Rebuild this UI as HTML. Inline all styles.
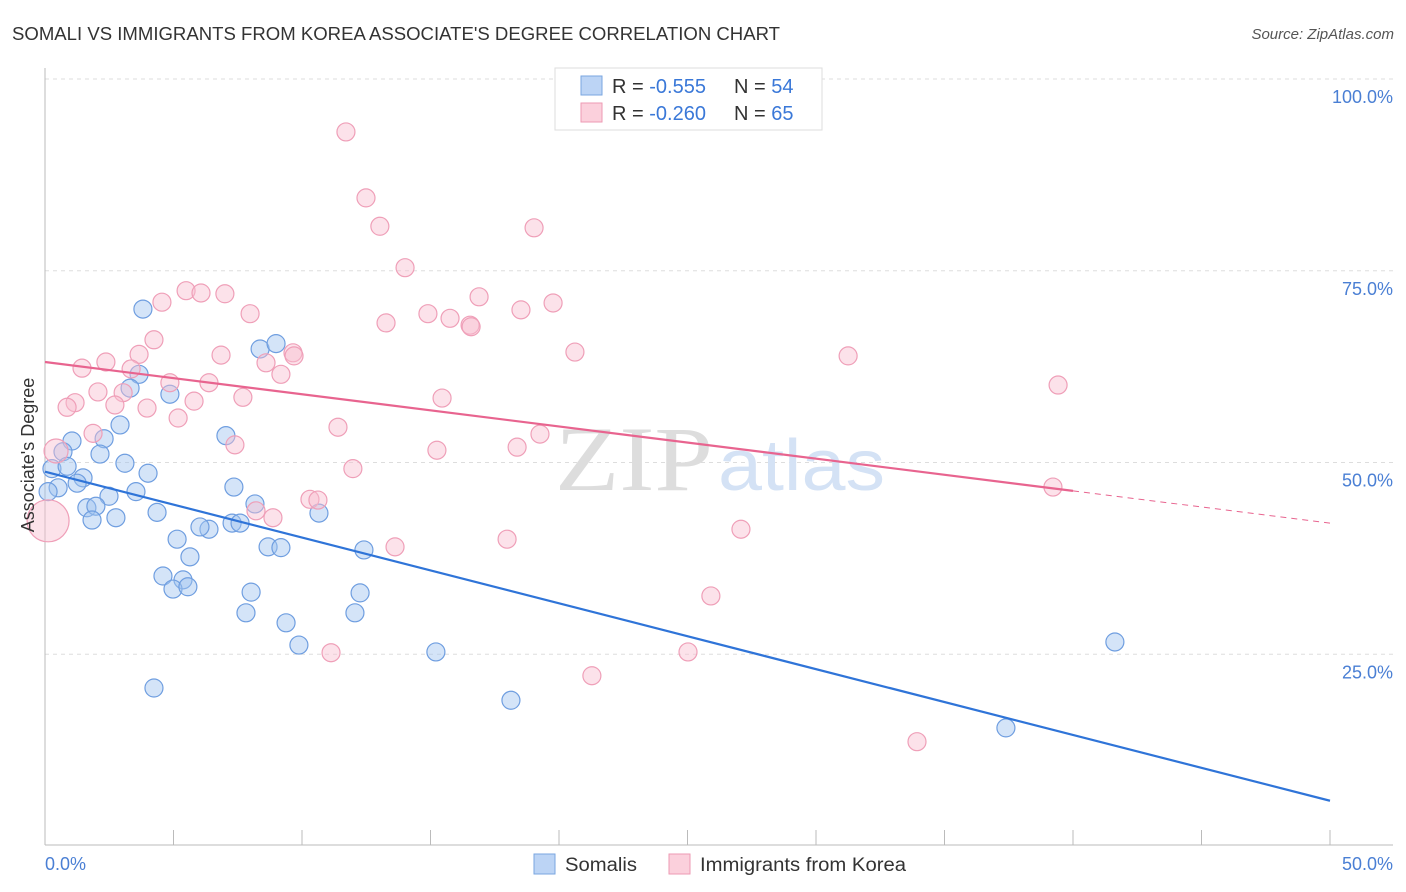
<!DOCTYPE html>
<html><head><meta charset="utf-8"><style>
body{margin:0;background:#fff;font-family:"Liberation Sans",sans-serif}
svg{display:block}
</style></head><body>
<svg width="1406" height="892" xmlns="http://www.w3.org/2000/svg">
<text x="12" y="40" font-size="18" fill="#333" textLength="768" lengthAdjust="spacingAndGlyphs">SOMALI VS IMMIGRANTS FROM KOREA ASSOCIATE'S DEGREE CORRELATION CHART</text>
<text x="1394" y="39" font-size="15" fill="#555" font-style="italic" text-anchor="end">Source: ZipAtlas.com</text>
<g id="grid"></g>
<text x="555" y="490" font-size="92" font-family="Liberation Serif,serif" fill="#ddd" textLength="158" lengthAdjust="spacingAndGlyphs">ZIP</text>
<text x="718" y="490" font-size="72" fill="#d4e2f5" textLength="167" lengthAdjust="spacingAndGlyphs">atlas</text>
<g id="marks"></g>
<text x="34" y="455" font-size="18" fill="#333" text-anchor="middle" transform="rotate(-90 34 455)">Associate's Degree</text>
<text x="45" y="870" font-size="18" fill="#4a7fd4">0.0%</text>
<text x="1393" y="870" font-size="18" fill="#4a7fd4" text-anchor="end">50.0%</text>
<g>
<rect x="555" y="68" width="267" height="62" fill="#fff" stroke="#ddd"/>
<rect x="581" y="76" width="21" height="19" fill="#bcd4f5" stroke="#7aa6e0"/>
<rect x="581" y="103" width="21" height="19" fill="#fbd0dc" stroke="#ee9ab3"/>
<text x="612" y="93" font-size="20" fill="#333">R = <tspan fill="#3a78d8">-0.555</tspan></text>
<text x="734" y="93" font-size="20" fill="#333">N = <tspan fill="#3a78d8">54</tspan></text>
<text x="612" y="120" font-size="20" fill="#333">R = <tspan fill="#3a78d8">-0.260</tspan></text>
<text x="734" y="120" font-size="20" fill="#333">N = <tspan fill="#3a78d8">65</tspan></text>
</g>
<g>
<rect x="534" y="854" width="21" height="20" fill="#bcd4f5" stroke="#7aa6e0"/>
<text x="565" y="871" font-size="19" fill="#333" textLength="72" lengthAdjust="spacingAndGlyphs">Somalis</text>
<rect x="669" y="854" width="21" height="20" fill="#fbd0dc" stroke="#ee9ab3"/>
<text x="700" y="871" font-size="19" fill="#333" textLength="206" lengthAdjust="spacingAndGlyphs">Immigrants from Korea</text>
</g>
</svg>
<script>
const yTicks=[25,50,75,100];
const yTickLabels=["25.0%","50.0%","75.0%","100.0%"];
const blueX=[3.81,8.37,8.99,3.66,3.31,4.86,2.92,7.04,1.05,2.30,0.70,2.14,3.11,4.01,0.27,0.86,1.48,1.25,0.51,0.12,7.35,3.54,2.49,8.17,1.63,1.98,4.36,10.66,1.83,2.76,6.38,6.03,7.28,7.59,5.14,8.68,9.18,12.41,5.64,4.59,5.37,4.98,5.56,8.02,12.26,7.82,12.06,9.38,9.88,15.21,4.24,18.13,41.63,37.39];
const blueY=[70.0,64.8,65.5,61.5,59.7,58.9,54.9,53.5,52.8,53.1,51.4,51.1,49.9,48.6,49.2,49.5,48.0,47.3,46.7,46.2,46.8,46.2,45.6,44.6,44.1,44.3,43.5,43.4,42.5,42.8,41.3,41.6,42.1,42.1,40.0,39.0,38.9,38.6,37.7,35.2,34.7,33.5,33.8,33.1,33.0,30.4,30.4,29.1,26.2,25.3,20.6,19.0,26.6,15.4];
const pinkX=[11.71,12.49,13.03,19.03,14.01,5.49,6.07,7.00,16.89,4.55,19.77,18.52,7.98,14.90,15.76,13.27,16.54,16.58,4.24,9.65,9.69,6.85,3.66,20.62,31.25,2.37,1.44,8.60,3.35,9.18,4.86,6.38,2.06,3.04,39.42,5.80,7.70,15.45,1.17,0.86,2.72,3.97,5.18,11.40,1.87,19.26,7.39,15.25,18.37,0.43,11.98,10.31,10.62,8.21,8.87,13.62,17.98,27.08,39.22,25.91,11.13,25.02,21.28,33.93,0.12];
const pinkY=[93.1,84.5,80.8,80.6,75.4,72.4,72.1,72.0,71.6,70.9,70.8,69.9,69.4,69.4,68.8,68.2,67.9,67.7,66.0,64.3,63.9,64.0,64.1,64.4,63.9,63.1,62.3,63.0,62.2,61.5,60.4,60.4,59.2,59.1,60.1,58.0,58.5,58.4,57.8,57.2,57.5,57.1,55.8,54.6,53.8,53.7,52.3,51.6,52.0,51.5,49.2,45.2,45.1,43.7,42.8,39.0,40.0,41.3,46.8,32.6,25.2,25.3,22.2,13.6,42.4];
const pinkR=[];pinkR[49]=12;pinkR[64]=21;
const blueTrend=[48.8,5.9];
const pinkTrend=[63.1,46.3,42.1];
const pinkTrendSolidEnd=40;
const NS="http://www.w3.org/2000/svg";
const X=v=>45+v/50*1285, Y=v=>846-v/100*767;
function mk(t,a,p){const e=document.createElementNS(NS,t);for(const k in a)e.setAttribute(k,a[k]);p.appendChild(e);return e;}
const g=document.getElementById('grid'), m=document.getElementById('marks');
yTicks.forEach((t,i)=>{
 const l=mk('line',{x1:45,x2:1393,y1:Y(t),y2:Y(t),stroke:'#ddd','stroke-dasharray':'4,4'},g);
 
 
 const tx=mk('text',{x:1393,y:Y(t)+24,'font-size':18,fill:'#4a7fd4','text-anchor':'end'},g);
 tx.textContent=yTickLabels[i];
 
 
});
mk('line',{x1:45,x2:45,y1:68,y2:845,stroke:'#bbb'},g);
mk('line',{x1:45,x2:1393,y1:845,y2:845,stroke:'#bbb'},g);
for(let i=0;i<=10;i++){const t=mk('line',{x1:X(i*5),x2:X(i*5),y1:830,y2:845,stroke:'#bbb'},g);
 
 }
blueX.forEach((v,i)=>{const c=mk('circle',{cx:X(v),cy:Y(blueY[i]),r:9,fill:'rgba(160,195,240,0.45)',stroke:'#6f9ee0','stroke-width':1.2},m);
 
 });
pinkX.forEach((v,i)=>{const c=mk('circle',{cx:X(v),cy:Y(pinkY[i]),r:pinkR[i]||9,fill:'rgba(248,190,208,0.45)',stroke:'#ef9fb8','stroke-width':1.2},m);
 
 });
const bl=mk('line',{x1:X(0),y1:Y(blueTrend[0]),x2:X(50),y2:Y(blueTrend[1]),stroke:'#2f74d8','stroke-width':2.2},m);


const pl=mk('line',{x1:X(0),y1:Y(pinkTrend[0]),x2:X(pinkTrendSolidEnd),y2:Y(pinkTrend[1]),stroke:'#e8648f','stroke-width':2.2},m);


const pd=mk('line',{x1:X(pinkTrendSolidEnd),y1:Y(pinkTrend[1]),x2:X(50),y2:Y(pinkTrend[2]),stroke:'#e8648f','stroke-width':1,'stroke-dasharray':'6,5'},m);


</script>
</body></html>
